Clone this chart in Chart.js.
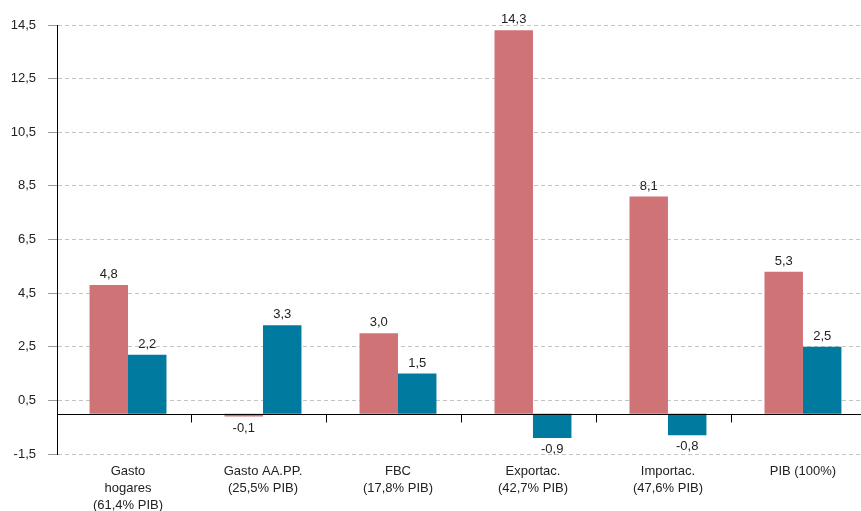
<!DOCTYPE html>
<html>
<head>
<meta charset="utf-8">
<script src="https://cdn.jsdelivr.net/npm/chart.js@4/dist/chart.umd.min.js"></script>
<style>
  html, body { margin: 0; padding: 0; background: #fff; }
  #wrap { width: 861px; height: 511px; }
</style>
</head>
<body>
<div id="wrap"><canvas id="c" width="861" height="511"></canvas></div>
<script>
// Componentes de demanda: crecimiento (%) en dos periodos
const categories = [
  ['Gasto', 'hogares', '(61,4% PIB)'],
  ['Gasto AA.PP.', '(25,5% PIB)'],
  ['FBC', '(17,8% PIB)'],
  ['Exportac.', '(42,7% PIB)'],
  ['Importac.', '(47,6% PIB)'],
  ['PIB (100%)']
];
const serieA = [4.8, -0.1, 3.0, 14.3, 8.1, 5.3];
const serieB = [2.2, 3.3, 1.5, -0.9, -0.8, 2.5];
const yTicks = [-1.5, 0.5, 2.5, 4.5, 6.5, 8.5, 10.5, 12.5, 14.5];

const colorA = '#cf7377';
const colorB = '#007a9e';
const FONT = '"Liberation Sans", Arial, Helvetica, sans-serif';

const fmt = v => v.toFixed(1).replace('.', ',');
const points = arr => arr.map((v, i) => ({ x: i, y: v }));

// Línea del cero y marcas de separación entre categorías
const zeroLine = {
  id: 'zeroLine',
  afterDatasetsDraw(chart) {
    const { ctx, chartArea, scales } = chart;
    const y0 = Math.round(scales.y.getPixelForValue(0)) + 0.5;
    ctx.save();
    ctx.strokeStyle = '#000';
    ctx.lineWidth = 1;
    ctx.beginPath();
    ctx.moveTo(chartArea.left, y0);
    ctx.lineTo(chartArea.right, y0);
    for (let i = 0; i < categories.length - 1; i++) {
      const x = Math.round(scales.x.getPixelForValue(i + 0.5)) - 3.5;
      ctx.moveTo(x, y0);
      ctx.lineTo(x, y0 + 8);
    }
    ctx.stroke();
    ctx.restore();
  }
};

// Etiquetas de valor sobre/bajo cada barra
const valueLabels = {
  id: 'valueLabels',
  afterDatasetsDraw(chart) {
    const { ctx } = chart;
    ctx.save();
    ctx.font = '13px ' + FONT;
    ctx.fillStyle = '#222';
    ctx.textAlign = 'center';
    chart.data.datasets.forEach((ds, di) => {
      chart.getDatasetMeta(di).data.forEach((bar, i) => {
        const v = ds.data[i].y;
        if (v >= 0) {
          ctx.textBaseline = 'bottom';
          ctx.fillText(fmt(v), bar.x, bar.y - 4);
        } else {
          ctx.textBaseline = 'top';
          ctx.fillText(fmt(v), bar.x, Math.max(bar.y, bar.base) + 5);
        }
      });
    });
    ctx.restore();
  }
};

new Chart(document.getElementById('c'), {
  type: 'bar',
  data: {
    datasets: [
      { label: 'A', data: points(serieA), backgroundColor: colorA, borderWidth: 0 },
      { label: 'B', data: points(serieB), backgroundColor: colorB, borderWidth: 0 }
    ]
  },
  options: {
    responsive: false,
    animation: false,
    devicePixelRatio: 1,
    layout: { padding: { top: 25, right: 0, left: 0, bottom: 0 } },
    plugins: { legend: { display: false }, tooltip: { enabled: false } },
    datasets: { bar: { categoryPercentage: 0.57, barPercentage: 1.0 } },
    scales: {
      x: {
        type: 'linear',
        offset: false,
        min: -0.526,
        max: 5.43,
        afterBuildTicks(scale) { scale.ticks = categories.map((c, i) => ({ value: i })); },
        grid: { display: false },
        border: { display: false },
        ticks: {
          color: '#222',
          font: { family: FONT, size: 13, lineHeight: 1.3 },
          padding: 1,
          maxRotation: 0,
          autoSkip: false,
          callback: v => categories[v]
        },
        afterFit(scale) { scale.height = 57; }
      },
      y: {
        min: -1.5,
        max: 14.5,
        afterBuildTicks(scale) { scale.ticks = yTicks.map(v => ({ value: v })); },
        border: { display: true, color: '#000', width: 1, dash: [4, 3] },
        grid: {
          color: '#c4c4c4',
          lineWidth: 1,
          tickLength: 9,
          tickColor: '#9a9a9a',
          tickBorderDash: []
        },
        ticks: {
          color: '#222',
          font: { family: FONT, size: 13 },
          padding: 12,
          callback: v => fmt(v)
        },
        afterFit(scale) { scale.width = 57; }
      }
    }
  },
  plugins: [zeroLine, valueLabels]
});
</script>
</body>
</html>
